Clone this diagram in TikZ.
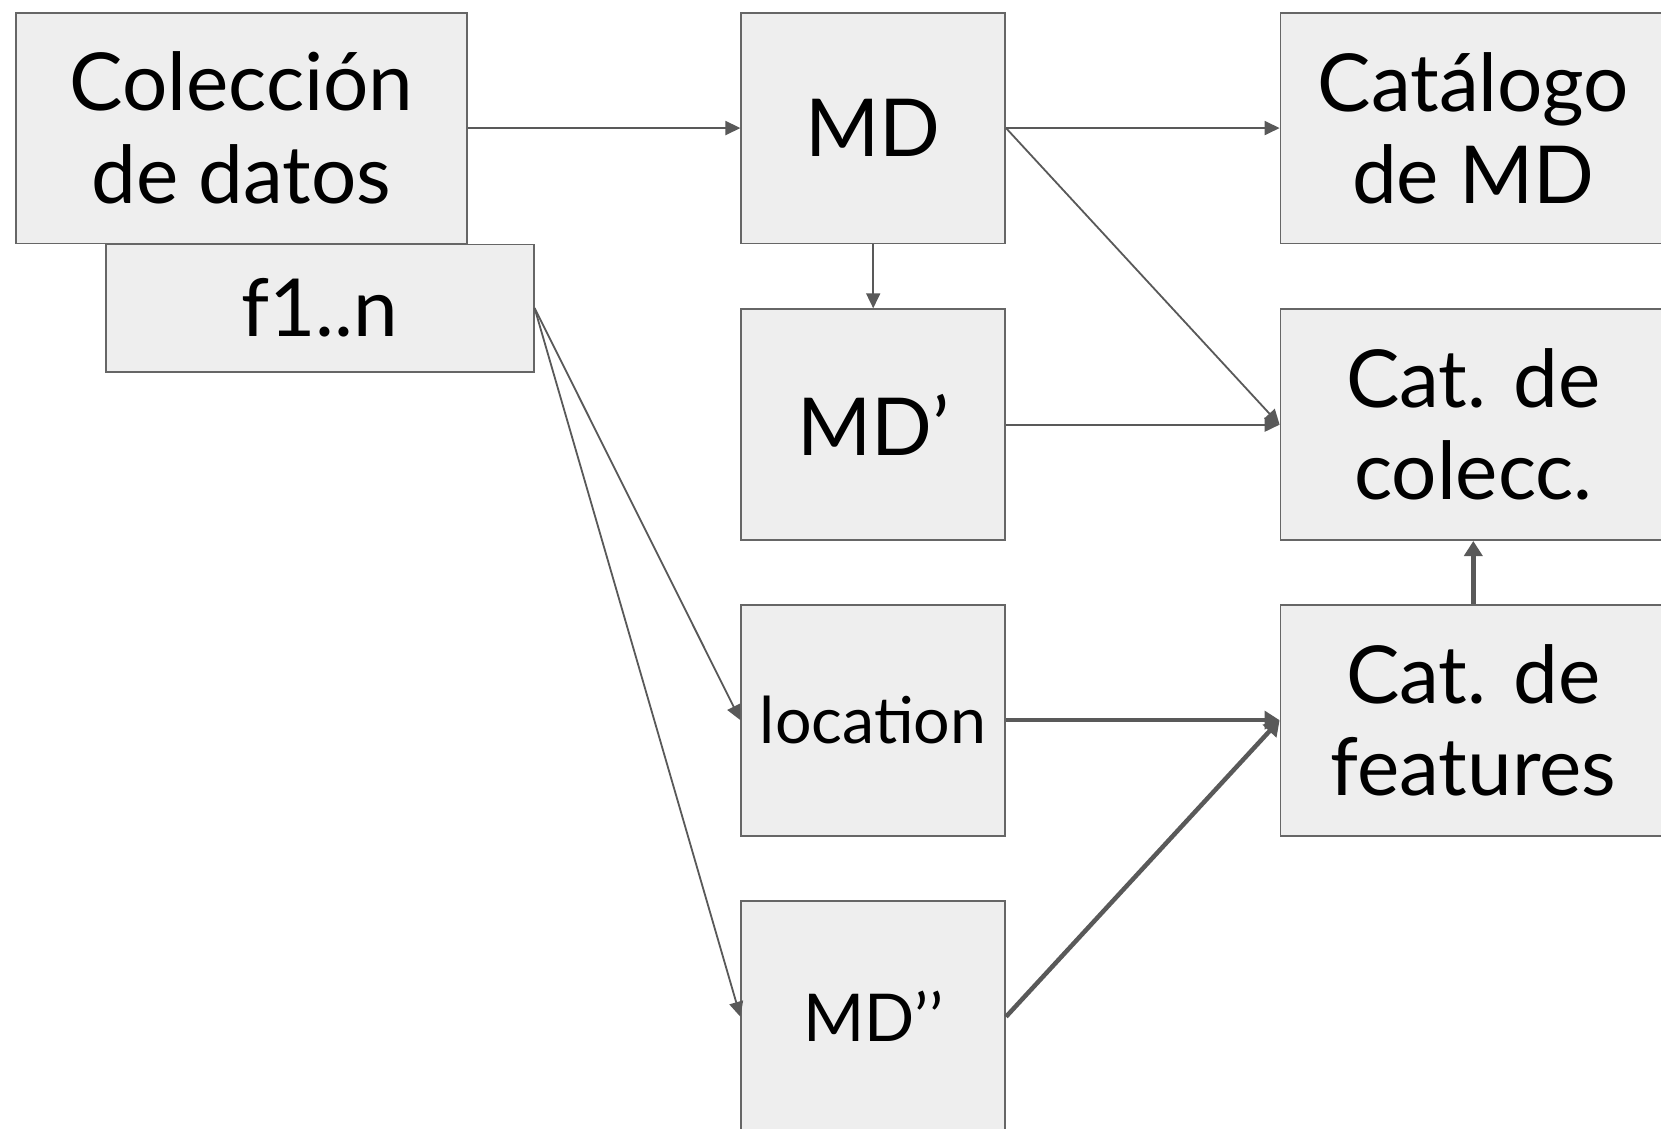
\documentclass[tikz,border=0pt]{standalone}
\usepackage{fontspec}
\setmainfont{Lato}
\usetikzlibrary{arrows.meta}
\definecolor{boxfill}{HTML}{EEEEEE}
\definecolor{boxline}{HTML}{666666}
\definecolor{linkline}{HTML}{595959}
\tikzset{
  box/.style={draw=boxline, fill=boxfill, line width=1.8pt, inner sep=0pt,
    align=center, anchor=north west, minimum height=230.9pt,
    font=\fontsize{80}{92}\selectfont},
  narrowbox/.style={box, minimum width=263.8pt},
  widebox/.style={box, minimum width=385.6pt},
  thinlink/.style={draw=linkline, line width=1.8pt,
    -{Triangle[length=15pt, width=14pt]}},
  thicklink/.style={draw=linkline, line width=4.5pt,
    -{Triangle[length=15pt, width=18pt]}}
}
\begin{document}
\begin{tikzpicture}[x=1pt, y=-1pt]
  \clip (0,0) rectangle (1661,1128);
  \fill[white] (0,0) rectangle (1661,1128);

  % left column
  \node[box, minimum width=451.3pt, font=\fontsize{80}{93}\selectfont]
    (col) at (14.8,11.7) {Colección\\de datos};
  \node[box, minimum width=427.9pt, minimum height=127.2pt,
    font=\fontsize{80}{86}\selectfont] (fn) at (104.9,243.6)
    {\raisebox{-4pt}{f1..n}};

  % middle column
  \node[narrowbox] (md)   at (740.4,11.7)  {MD};
  \node[narrowbox] (mdp)  at (740.4,308.3) {MD’};
  \node[narrowbox, font=\fontsize{64.5}{72}\selectfont] (loc)  at (740.4,603.8) {location};
  \node[narrowbox, font=\fontsize{66}{72}\selectfont] (mdpp) at (740.4,900.4) {MD’’};

  % right column
  \node[widebox] (cat)  at (1279.6,11.7)  {Catálogo\\de MD};
  \node[widebox] (catc) at (1279.6,308.3) {Cat. de\\colecc.};
  \node[widebox] (catf) at (1279.6,603.8) {Cat. de\\features};

  % connectors
  \draw[thinlink] (col.east) -- (md.west);
  \draw[thinlink] (md.east) -- (cat.west);
  \draw[thinlink] (md.east) -- (catc.west);
  \draw[thinlink] (md.south) -- (mdp.north);
  \draw[thinlink] (mdp.east) -- (catc.west);
  \draw[thinlink] (fn.east) -- (loc.west);
  \draw[thinlink] (fn.east) -- (mdpp.west);
  \draw[thicklink] (loc.east) -- (catf.west);
  \draw[thicklink] (mdpp.east) -- (catf.west);
  \draw[thicklink] (catf.north) -- (catc.south);
\end{tikzpicture}
\end{document}
